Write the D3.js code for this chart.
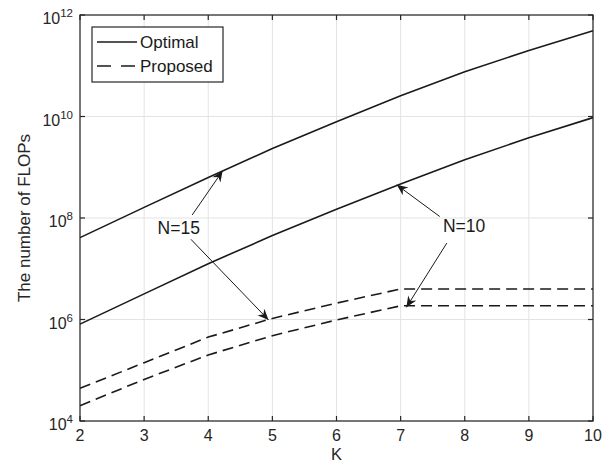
<!DOCTYPE html>
<html>
<head>
<meta charset="utf-8">
<script src="https://cdn.jsdelivr.net/npm/d3@7"></script>
<style>
  body { margin: 0; background: #fff; }
  svg { display: block; font-family: "Liberation Sans", Arial, Helvetica, sans-serif; }
</style>
</head>
<body>
<div id="chart"></div>
<script>
const kValues = [2, 3, 4, 5, 6, 7, 8, 9, 10]
const optimalN15 = [4.1e7, 1.62e8, 6.3e8, 2.34e9, 7.9e9, 2.57e10, 7.6e10, 2.0e11, 4.9e11]
const optimalN10 = [8.1e5, 3.2e6, 1.26e7, 4.5e7, 1.48e8, 4.7e8, 1.41e9, 3.8e9, 9.5e9]
const proposedN15 = [4.4e4, 1.41e5, 4.5e5, 1.05e6, 2.1e6, 4.0e6, 4.0e6, 4.0e6, 4.0e6]
const proposedN10 = [2.0e4, 6.6e4, 2.0e5, 4.8e5, 9.8e5, 1.86e6, 1.86e6, 1.86e6, 1.86e6]
const legendNames = ["Optimal", "Proposed"]
const xTicks = [2, 3, 4, 5, 6, 7, 8, 9, 10]
const yTickExps = [4, 6, 8, 10, 12]
const annotations = [
  { label: "N=15", x: 3.54, y: 6.3e7,
    arrows: [{ from: [3.75, 1.15e8], to: [4.225, 8.5e8] }, { from: [3.73, 3.8e7], to: [4.94, 9.8e5] }] },
  { label: "N=10", x: 7.99, y: 6.9e7,
    arrows: [{ from: [7.61, 1.07e8], to: [6.94, 4.5e8] }, { from: [7.72, 3.2e7], to: [7.09, 1.74e6] }] }
]

const width = 616, height = 465
const margin = { top: 15, right: 23, bottom: 44, left: 80 }
const innerW = width - margin.left - margin.right
const innerH = height - margin.top - margin.bottom
const axisColor = "#262626"
const lineColor = "#1a1a1a"

const svg = d3.select("#chart").append("svg")
  .attr("width", width).attr("height", height)
svg.append("rect").attr("width", width).attr("height", height).attr("fill", "#fff")

const x = d3.scaleLinear().domain([2, 10]).range([0, innerW])
const y = d3.scaleLog().domain([1e4, 1e12]).range([innerH, 0])

const g = svg.append("g").attr("transform", `translate(${margin.left},${margin.top})`)

// grid
g.append("g").selectAll("line").data(xTicks).join("line")
  .attr("x1", d => x(d)).attr("x2", d => x(d)).attr("y1", 0).attr("y2", innerH)
  .attr("stroke", "#e3e3e3").attr("stroke-width", 1)
g.append("g").selectAll("line").data(yTickExps).join("line")
  .attr("y1", d => y(10 ** d)).attr("y2", d => y(10 ** d)).attr("x1", 0).attr("x2", innerW)
  .attr("stroke", "#e3e3e3").attr("stroke-width", 1)

// series
const series = [
  { values: optimalN15, dash: null },
  { values: optimalN10, dash: null },
  { values: proposedN15, dash: "11,6" },
  { values: proposedN10, dash: "11,6" }
]
const line = d3.line().x((d, i) => x(kValues[i])).y(d => y(d))
series.forEach(s => {
  g.append("path").datum(s.values)
    .attr("d", line)
    .attr("fill", "none")
    .attr("stroke", lineColor)
    .attr("stroke-width", 1.6)
    .attr("stroke-dasharray", s.dash)
})

// axes box with inward ticks on all sides
const tickLen = 5
const axes = g.append("g").attr("stroke", axisColor).attr("stroke-width", 1.2)
axes.append("rect").attr("width", innerW).attr("height", innerH).attr("fill", "none")
xTicks.forEach(t => {
  axes.append("line").attr("x1", x(t)).attr("x2", x(t)).attr("y1", innerH).attr("y2", innerH - tickLen)
  axes.append("line").attr("x1", x(t)).attr("x2", x(t)).attr("y1", 0).attr("y2", tickLen)
})
yTickExps.forEach(e => {
  axes.append("line").attr("y1", y(10 ** e)).attr("y2", y(10 ** e)).attr("x1", 0).attr("x2", tickLen)
  axes.append("line").attr("y1", y(10 ** e)).attr("y2", y(10 ** e)).attr("x1", innerW).attr("x2", innerW - tickLen)
})

// tick labels
g.append("g").selectAll("text").data(xTicks).join("text")
  .attr("x", d => x(d)).attr("y", innerH + 20)
  .attr("text-anchor", "middle").attr("font-size", 16).attr("fill", axisColor)
  .text(d => d)

const yl = g.append("g").selectAll("text").data(yTickExps).join("text")
  .attr("x", -7).attr("y", d => y(10 ** d) + 9)
  .attr("text-anchor", "end").attr("font-size", 16).attr("fill", axisColor)
yl.append("tspan").text("10")
yl.append("tspan").attr("dy", -7).attr("font-size", 11.5).text(d => d)

// axis titles
g.append("text").attr("x", innerW / 2).attr("y", innerH + 39)
  .attr("text-anchor", "middle").attr("font-size", 16.5).attr("fill", axisColor).text("K")
g.append("text")
  .attr("transform", `translate(${-50},${innerH / 2}) rotate(-90)`)
  .attr("text-anchor", "middle").attr("font-size", 17).attr("fill", axisColor)
  .text("The number of FLOPs")

// annotations
function arrowHead(x0, y0, x1, y1) {
  const ang = Math.atan2(y1 - y0, x1 - x0)
  const L = 11, W = 4.8, back = 7.5
  const c = Math.cos(ang), s = Math.sin(ang)
  const pt = (a, b) => [x1 - a * c - b * s, y1 - a * s + b * c]
  const p1 = pt(L, W), p2 = pt(back, 0), p3 = pt(L, -W)
  return `M${x1},${y1}L${p1[0]},${p1[1]}L${p2[0]},${p2[1]}L${p3[0]},${p3[1]}Z`
}
annotations.forEach(a => {
  g.append("text").attr("x", x(a.x)).attr("y", y(a.y)).attr("dy", "0.36em")
    .attr("text-anchor", "middle").attr("font-size", 17.5).attr("fill", lineColor)
    .text(a.label)
  a.arrows.forEach(ar => {
    const x0 = x(ar.from[0]), y0 = y(ar.from[1]), x1 = x(ar.to[0]), y1 = y(ar.to[1])
    g.append("line").attr("x1", x0).attr("y1", y0).attr("x2", x1).attr("y2", y1)
      .attr("stroke", lineColor).attr("stroke-width", 1)
    g.append("path").attr("d", arrowHead(x0, y0, x1, y1)).attr("fill", lineColor)
  })
})

// legend
const lg = g.append("g").attr("transform", "translate(12,12)")
lg.append("rect").attr("width", 131).attr("height", 55)
  .attr("fill", "#fff").attr("stroke", axisColor).attr("stroke-width", 1.2)
legendNames.forEach((name, i) => {
  const ly = 15 + i * 24
  lg.append("line").attr("x1", 5).attr("x2", 45).attr("y1", ly).attr("y2", ly)
    .attr("stroke", lineColor).attr("stroke-width", 1.6)
    .attr("stroke-dasharray", i === 1 ? "14,10" : null)
  lg.append("text").attr("x", 48).attr("y", ly + 6)
    .attr("font-size", 17).attr("fill", lineColor).text(name)
})
</script>
</body>
</html>
